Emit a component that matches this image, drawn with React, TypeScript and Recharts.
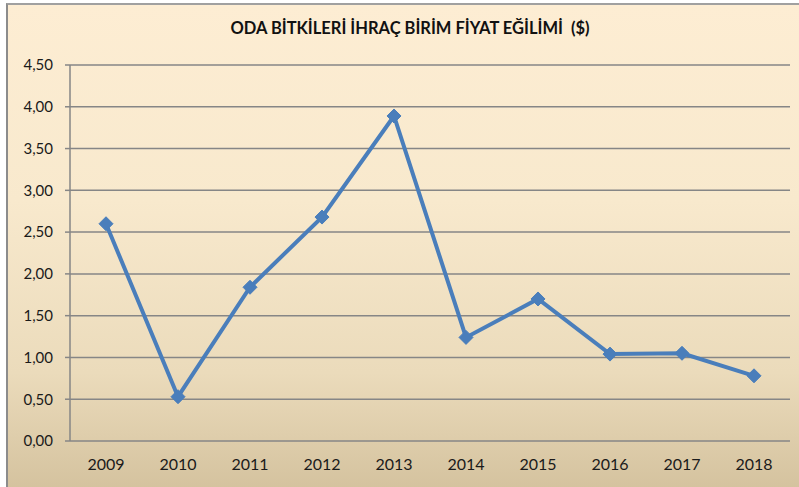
import { LineChart, Line, XAxis, YAxis, CartesianGrid } from "recharts";

const years = ["2009", "2010", "2011", "2012", "2013", "2014", "2015", "2016", "2017", "2018"];
const prices = [2.6, 0.53, 1.84, 2.68, 3.89, 1.24, 1.7, 1.04, 1.05, 0.78];
const yTicks = [0, 0.5, 1, 1.5, 2, 2.5, 3, 3.5, 4, 4.5];
const boundaryTicks = [0, 1, 2, 3, 4, 5, 6, 7, 8, 9, 10];

const data = years.map((year, i) => ({ year, price: prices[i] }));

const font = "Lato, 'Open Sans', sans-serif";

function Diamond(props: any) {
  const { cx, cy } = props;
  if (cx == null || cy == null) return null;
  const r = 7;
  return (
    <polygon
      points={`${cx},${cy - r} ${cx + r},${cy} ${cx},${cy + r} ${cx - r},${cy}`}
      fill="#4A7EBB"
      stroke="#4A7EBB"
      strokeWidth={1}
    />
  );
}

export default function App() {
  return (
    <div style={{ position: "absolute", left: 0, top: 0, width: 799, height: 487, background: "#fff", overflow: "hidden" }}>
      <div
        style={{
          position: "absolute",
          left: 6,
          top: 3,
          width: 800,
          height: 490,
          borderLeft: "2px solid #8c8c8c",
          borderTop: "2px solid #a0a0a0",
          background: "linear-gradient(180deg, #FDEDD3 0%, #F8E9CD 40%, #EBDBBB 75%, #D3C19D 100%)",
        }}
      />
      <div
        style={{
          position: "absolute",
          left: 0,
          width: 820,
          top: 18,
          textAlign: "center",
          fontFamily: font,
          fontWeight: 700,
          fontSize: 16.5,
          color: "#111",
          whiteSpace: "pre",
        }}
      >
        ODA BİTKİLERİ İHRAÇ BİRİM FİYAT EĞİLİMİ  ($)
      </div>
      <div style={{ position: "absolute", left: 0, top: 0 }}>
        <LineChart width={799} height={487} data={data} margin={{ top: 65, right: 9, bottom: 16, left: 20 }}>
          <CartesianGrid horizontal vertical={false} stroke="#868686" strokeWidth={1.5} xAxisId="lab" />
          <XAxis
            xAxisId="num"
            type="number"
            domain={[0, 10]}
            ticks={boundaryTicks}
            tickFormatter={() => ""}
            stroke="#868686"
            strokeWidth={1.5}
            tickSize={5}
            height={0}
            allowDataOverflow
          />
          <XAxis
            xAxisId="lab"
            dataKey="year"
            axisLine={false}
            tickLine={false}
            padding={{ left: 36, right: 36 }}
            height={30}
            tickMargin={12}
            tick={{ fontSize: 16, fill: "#1a1a1a", fontFamily: font }}
          />
          <YAxis
            domain={[0, 4.5]}
            ticks={yTicks}
            width={50}
            tickFormatter={(v: number) => v.toFixed(2).replace(".", ",")}
            stroke="#868686"
            strokeWidth={1.5}
            tickSize={5}
            tickMargin={12}
            tick={{ fontSize: 15, fill: "#1a1a1a", fontFamily: font }}
          />
          <Line
            xAxisId="lab"
            dataKey="price"
            stroke="#4A7EBB"
            strokeWidth={4}
            dot={<Diamond />}
            activeDot={false}
            isAnimationActive={false}
          />
        </LineChart>
      </div>
    </div>
  );
}
